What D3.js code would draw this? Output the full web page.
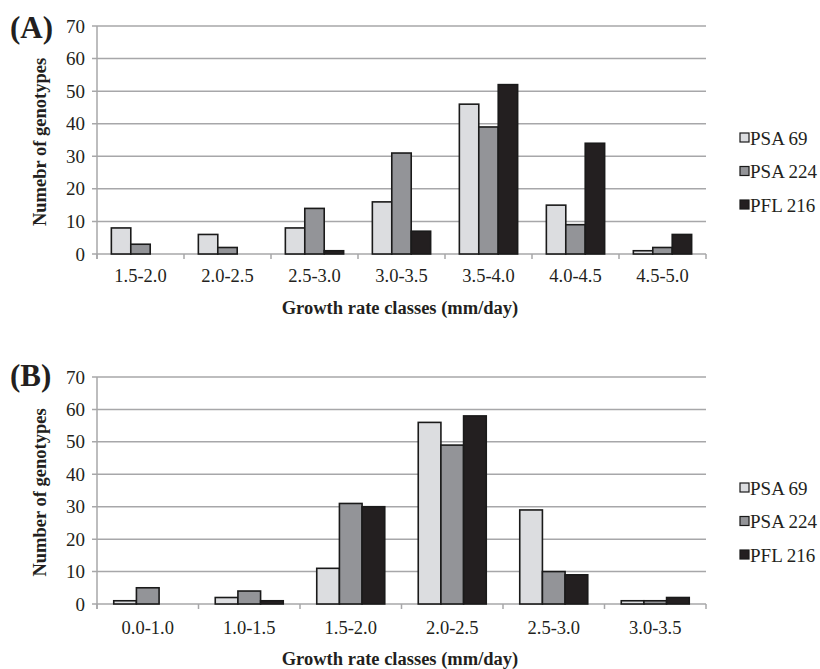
<!DOCTYPE html>
<html>
<head>
<meta charset="utf-8">
<script src="https://cdn.jsdelivr.net/npm/d3@7"></script>
<style>
  body { margin: 0; background: #fff; }
  svg { display: block; font-family: "Liberation Serif", "Times New Roman", serif; }
</style>
</head>
<body>
<div id="chart"></div>
<script>
// series names + legend fills
const seriesNames = ['PSA 69', 'PSA 224', 'PFL 216'];
const seriesColors = ['#dcdde0', '#939498', '#231f20'];

// panel A
const classesA = ['1.5-2.0', '2.0-2.5', '2.5-3.0', '3.0-3.5', '3.5-4.0', '4.0-4.5', '4.5-5.0'];
const psa69A  = [8, 6, 8, 16, 46, 15, 1];
const psa224A = [3, 2, 14, 31, 39, 9, 2];
const pfl216A = [0, 0, 1, 7, 52, 34, 6];

// panel B
const classesB = ['0.0-1.0', '1.0-1.5', '1.5-2.0', '2.0-2.5', '2.5-3.0', '3.0-3.5'];
const psa69B  = [1, 2, 11, 56, 29, 1];
const psa224B = [5, 4, 31, 49, 10, 1];
const pfl216B = [0, 1, 30, 58, 9, 2];

const yTicks = [0, 10, 20, 30, 40, 50, 60, 70];

const width = 820, height = 669;
const svg = d3.select('#chart').append('svg').attr('width', width).attr('height', height);

const gridColor = '#a7a7a9';

function panel(opts) {
  const {classes, values, top, bottom, label, yTitle, labelY, tickLabelY, titleY, legendY} = opts;
  const left = 97, right = 706;
  const g = svg.append('g');

  const x = d3.scaleBand().domain(classes).range([left, right]).paddingInner(0.33).paddingOuter(0.165);
  const xs = d3.scaleBand().domain(d3.range(seriesNames.length)).range([0, x.bandwidth()]);
  const y = d3.scaleLinear().domain([0, 70]).range([bottom, top]);
  const step = (right - left) / classes.length;

  // gridlines + y ticks
  g.append('g').selectAll('line').data(yTicks).join('line')
    .attr('x1', left - 5).attr('x2', right)
    .attr('y1', d => y(d)).attr('y2', d => y(d))
    .attr('stroke', gridColor).attr('stroke-width', 1.5);

  g.append('g').selectAll('text').data(yTicks).join('text')
    .attr('x', left - 12).attr('y', d => y(d) + 6.5)
    .attr('text-anchor', 'end').attr('font-size', 19).attr('fill', '#231f20')
    .text(d => d);

  // left axis
  g.append('line').attr('x1', left).attr('x2', left).attr('y1', top).attr('y2', bottom + 5)
    .attr('stroke', gridColor).attr('stroke-width', 1.5);

  // bottom category ticks
  g.append('g').selectAll('line').data(d3.range(classes.length + 1)).join('line')
    .attr('x1', d => left + d * step).attr('x2', d => left + d * step)
    .attr('y1', bottom).attr('y2', bottom + 5)
    .attr('stroke', gridColor).attr('stroke-width', 1.5);

  // bars
  const groups = g.append('g').selectAll('g').data(classes).join('g')
    .attr('transform', d => `translate(${x(d)},0)`);
  groups.selectAll('rect')
    .data((c, i) => values.map((s, k) => ({k, v: s[i]})))
    .join('rect')
    .attr('x', d => xs(d.k))
    .attr('width', xs.bandwidth())
    .attr('y', d => y(d.v))
    .attr('height', d => y(0) - y(d.v))
    .attr('fill', d => seriesColors[d.k])
    .attr('stroke', '#1a1a1a').attr('stroke-width', d => d.v > 0 ? 1.6 : 0);

  // x tick labels
  g.append('g').selectAll('text').data(classes).join('text')
    .attr('x', d => x(d) + x.bandwidth() / 2).attr('y', tickLabelY)
    .attr('text-anchor', 'middle').attr('font-size', 18.5).attr('fill', '#231f20')
    .text(d => d);

  // x title
  g.append('text').attr('x', 400).attr('y', titleY)
    .attr('text-anchor', 'middle').attr('font-size', 18.5).attr('font-weight', 'bold').attr('fill', '#231f20')
    .text('Growth rate classes (mm/day)');

  // y title
  g.append('text')
    .attr('transform', `translate(46,${(top + bottom) / 2 + 2}) rotate(-90)`)
    .attr('text-anchor', 'middle').attr('font-size', 18.5).attr('font-weight', 'bold').attr('fill', '#231f20')
    .text(yTitle);

  // panel label
  g.append('text').attr('x', 10).attr('y', labelY)
    .attr('font-size', 31).attr('font-weight', 'bold').attr('fill', '#231f20')
    .text(label);

  // legend
  const lg = g.append('g').selectAll('g').data(seriesNames).join('g')
    .attr('transform', (d, i) => `translate(740,${legendY + i * 33.5})`);
  lg.append('rect').attr('x', 0).attr('y', -5).attr('width', 9).attr('height', 9)
    .attr('fill', (d, i) => seriesColors[i]).attr('stroke', '#1a1a1a').attr('stroke-width', 1.2);
  lg.append('text').attr('x', 10).attr('y', 6.5).attr('font-size', 19).attr('fill', '#231f20')
    .text(d => d);
}

panel({
  classes: classesA, values: [psa69A, psa224A, pfl216A],
  top: 26, bottom: 254, label: '(A)', yTitle: 'Numebr of genotypes',
  labelY: 38, tickLabelY: 282, titleY: 314, legendY: 138
});

panel({
  classes: classesB, values: [psa69B, psa224B, pfl216B],
  top: 377, bottom: 604, label: '(B)', yTitle: 'Number of genotypes',
  labelY: 386, tickLabelY: 634, titleY: 665, legendY: 488
});
</script>
</body>
</html>
